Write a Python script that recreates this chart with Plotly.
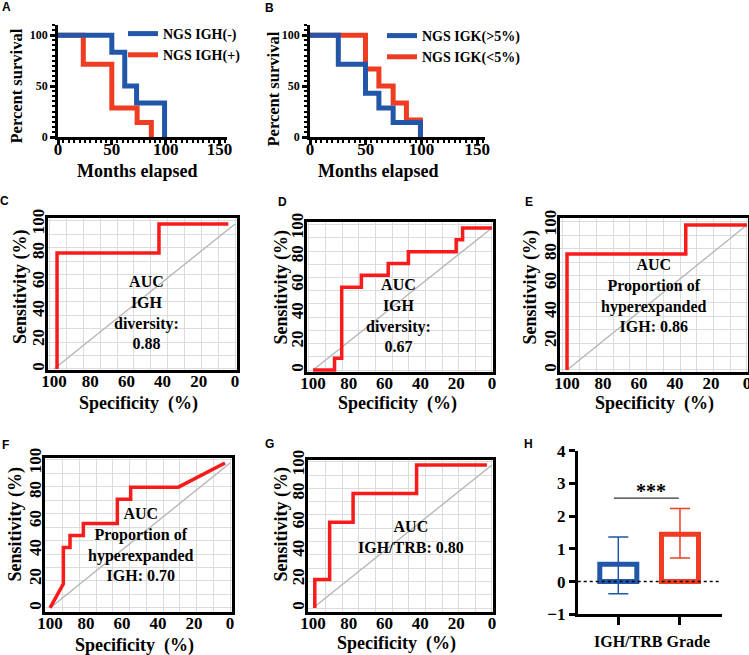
import plotly.graph_objects as go

W, H = 749, 655
SERIF = "Liberation Serif"
SANS = "Liberation Sans"
BLUE = "#2256a8"
RED = "#ee3d23"
ROC_RED = "#f81b1b"
GRID = "#dcdcdc"

# ---------------- data ----------------
# Panel A: Kaplan-Meier, NGS IGH
a_neg_months = [0, 50, 62, 73, 99]
a_neg_surv = [100, 83.3, 50, 33.3, 0]
a_pos_months = [0, 23.5, 50, 73.5, 86.7]
a_pos_surv = [100, 71.4, 28.6, 14.3, 0]

# Panel B: Kaplan-Meier, NGS IGK
b_hi_months = [0, 25.4, 49.8, 61.8, 74.6, 99.1]
b_hi_surv = [100, 71.4, 42.9, 28.6, 14.3, 0]
b_lo_months = [0, 49.8, 61.8, 74.6, 86.5, 99.1]
b_lo_surv = [100, 66.7, 50, 33.3, 16.7, 0]

# ROC curves (specificity %, sensitivity %)
roc_ref_spec = [100, 0]
roc_ref_sens = [0, 100]

roc_c_spec = [98.3, 98.3, 42, 42, 3.7]
roc_c_sens = [0, 80, 80, 100, 100]

roc_d_spec = [100, 88, 88, 84, 84, 73, 73, 58, 58, 46.7, 46.7, 20, 20, 16.4, 16.4, 0]
roc_d_sens = [0, 0, 8.3, 8.3, 58.3, 58.3, 66.7, 66.7, 75, 75, 83.3, 83.3, 91.7, 91.7, 100, 100]

roc_e_spec = [100, 100, 34, 34, 0]
roc_e_sens = [0, 80, 80, 100, 100]

roc_f_spec = [100, 92.6, 92.6, 88.9, 88.9, 81.5, 81.5, 62.6, 62.6, 55.2, 55.2, 28.7, 2.8]
roc_f_sens = [0, 16.7, 41.7, 41.7, 50, 50, 58.3, 58.3, 75, 75, 83.3, 83.3, 100]

roc_g_spec = [99, 99, 90.7, 90.7, 77.6, 77.6, 42.1, 42.1, 2.8]
roc_g_sens = [0, 20, 20, 60, 60, 80, 80, 100, 100]

roc_ticks = [0, 20, 40, 60, 80, 100]

# Panel H: IGH/TRB grade
grade_pos = [0, 1]
grade_mean = [0.53, 1.45]
grade_err_plus = [0.83, 0.78]
grade_err_minus = [0.90, 0.73]
grade_colors = [BLUE, RED]

# ---------------- helpers ----------------
def dx(p0, p1):
    return [p0 / W, p1 / W]

def dy(top, bottom):
    return [1 - bottom / H, 1 - top / H]

def px(x):
    return x / W

def py(y):
    return 1 - y / H

fig = go.Figure()

# ---------------- survival panels ----------------
def surv_trace(x, y, color, name, n, legend, rank):
    return go.Scatter(x=x, y=y, mode="lines", line=dict(color=color, width=5, shape="hv"),
                      name=name, xaxis=f"x{n}", yaxis=f"y{n}", legend=legend, legendrank=rank)

fig.add_trace(surv_trace(a_pos_months, a_pos_surv, RED, "NGS IGH(+)", 1, "legend", 2))
fig.add_trace(surv_trace(a_neg_months, a_neg_surv, BLUE, "NGS IGH(-)", 1, "legend", 1))
fig.add_trace(surv_trace(b_lo_months, b_lo_surv, RED, "NGS IGK(<5%)", 2, "legend2", 2))
fig.add_trace(surv_trace(b_hi_months, b_hi_surv, BLUE, "NGS IGK(>5%)", 2, "legend2", 1))

def surv_axes(n, xdom, ydom):
    xa = dict(domain=xdom, range=[0, 157], anchor=f"y{n}", showline=True, linecolor="black",
              linewidth=2.5, showgrid=False, zeroline=False, tickmode="array",
              tickvals=[0, 50, 100, 150], ticks="outside", ticklen=5, tickwidth=2.5,
              tickcolor="black", ticklabelstandoff=-10,
              tickfont=dict(family=SERIF, size=17, color="black", weight="bold"),
              minor=dict(tick0=0, dtick=5, ticks="outside", ticklen=3, tickwidth=1.5,
                         tickcolor="black", showgrid=False),
              automargin=False, fixedrange=True)
    ya = dict(domain=ydom, range=[0, 110], anchor=f"x{n}", showline=True, linecolor="black",
              linewidth=2.5, showgrid=False, zeroline=False, tickmode="array",
              tickvals=[0, 50, 100], ticks="outside", ticklen=5, tickwidth=2.5,
              tickcolor="black",
              tickfont=dict(family=SERIF, size=12, color="black", weight="bold"),
              minor=dict(tick0=0, dtick=5, ticks="outside", ticklen=3, tickwidth=1.5,
                         tickcolor="black", showgrid=False),
              automargin=False, fixedrange=True)
    return xa, ya

xa, ya = surv_axes(1, dx(58, 227), dy(25, 137))
fig.update_layout(xaxis=xa, yaxis=ya)
xa, ya = surv_axes(2, dx(310, 485), dy(25, 137))
fig.update_layout(xaxis2=xa, yaxis2=ya)

# ---------------- ROC panels ----------------
roc_panels = [
    (3, roc_c_spec, roc_c_sens, (48, 237), (218, 370), [103.3, -1.1], [-0.7, 104.1]),
    (4, roc_d_spec, roc_d_sens, (307, 493), (222, 372), [103.4, -0.6], [-1.4, 104.2]),
    (5, roc_e_spec, roc_e_sens, (560, 748), (218, 372), [103.9, -0.6], [-1.4, 104.8]),
    (6, roc_f_spec, roc_f_sens, (45, 232), (458, 612), [102.8, -1.1], [-2.8, 103.4]),
    (7, roc_g_spec, roc_g_sens, (308, 493), (460, 612), [102.8, -0.6], [-2.8, 103.5]),
]

layout_axes = {}
for n, spec, sens, xp, yp, xr, yr in roc_panels:
    fig.add_trace(go.Scatter(x=roc_ref_spec, y=roc_ref_sens, mode="lines",
                             line=dict(color="#b4b4b4", width=1.3), showlegend=False,
                             xaxis=f"x{n}", yaxis=f"y{n}"))
    fig.add_trace(go.Scatter(x=spec, y=sens, mode="lines",
                             line=dict(color=ROC_RED, width=3.5), showlegend=False,
                             xaxis=f"x{n}", yaxis=f"y{n}"))
    common = dict(showline=True, mirror=True, linecolor="black", linewidth=2.5,
                  showgrid=False, zeroline=False, tickmode="array", tickvals=roc_ticks,
                  ticks="", tickfont=dict(family=SERIF, size=17, color="black", weight="bold"),
                  minor=dict(tick0=0, dtick=9.3, showgrid=True, gridcolor=GRID, gridwidth=1.2),
                  ticklabeloverflow="allow", automargin=False, fixedrange=True)
    layout_axes[f"xaxis{n}"] = dict(domain=dx(*xp), range=xr, anchor=f"y{n}",
                                    ticklabelstandoff=-6, **common)
    layout_axes[f"yaxis{n}"] = dict(domain=dy(*yp), range=yr, anchor=f"x{n}", tickangle=-90,
                                    ticklabelstandoff=-6, **common)
fig.update_layout(**layout_axes)

# ---------------- panel H bars ----------------
for i in range(2):
    fig.add_trace(go.Bar(x=[grade_pos[i]], y=[grade_mean[i]], width=0.6,
                         marker=dict(color="white", line=dict(color=grade_colors[i], width=5)),
                         error_y=dict(type="data", symmetric=False,
                                      array=[grade_err_plus[i]], arrayminus=[grade_err_minus[i]],
                                      color=grade_colors[i], thickness=1.5, width=10),
                         showlegend=False, xaxis="x8", yaxis="y8"))

fig.update_layout(
    xaxis8=dict(domain=dx(577.7, 721.7), range=[-0.658, 1.676], anchor="y8", showline=True,
                linecolor="black", linewidth=2.5, showgrid=False, zeroline=False,
                tickmode="array", tickvals=grade_pos, showticklabels=False, ticks="outside",
                ticklen=8, tickwidth=2.5, tickcolor="black", automargin=False, fixedrange=True),
    yaxis8=dict(domain=dy(450.7, 614.3), range=[-1, 4], anchor="x8", showline=True,
                linecolor="black", linewidth=2.5, showgrid=False, zeroline=False,
                tickmode="array", tickvals=[-1, 0, 1, 2, 3, 4], ticks="outside", ticklen=6,
                tickwidth=2.5, tickcolor="black",
                tickfont=dict(family=SERIF, size=17, color="black", weight="bold"),
                automargin=False, fixedrange=True),
)

fig.add_shape(type="line", xref="x8 domain", yref="y8", x0=0, x1=1, y0=0, y1=0,
              line=dict(color="black", width=1.5, dash="dot"), layer="above")
fig.add_shape(type="line", xref="x8", yref="y8", x0=-0.07, x1=0.98, y0=2.55, y1=2.55,
              line=dict(color="#333333", width=1.2))

# ---------------- annotations ----------------
ann = []

def text(x, y, s, size, family=SERIF, angle=0, weight="bold", xanchor="center", yanchor="middle"):
    ann.append(dict(x=px(x), y=py(y), xref="paper", yref="paper", text=s, showarrow=False,
                    textangle=angle, xanchor=xanchor, yanchor=yanchor, align="center",
                    font=dict(family=family, size=size, color="black", weight=weight)))

# panel letters
for s, x, y in [("A", 6, 7.5), ("B", 269, 8), ("C", 4.5, 200.5), ("D", 282, 202),
                ("E", 528.5, 202), ("F", 5, 444.5), ("G", 269, 444), ("H", 528.5, 444)]:
    text(x, y, s, 12, family=SANS)

# survival titles
text(137.5, 171, "Months elapsed", 18)
text(379, 171, "Months elapsed", 18)
text(16.5, 86, "Percent survival", 16.5, angle=-90)
text(273.5, 89, "Percent survival", 16.5, angle=-90)

# ROC titles
for x, y in [(138, 403), (397.5, 403), (654, 403), (134, 645), (396.5, 643)]:
    text(x, y, "Specificity  (%)", 18)
for x, y in [(20, 287), (281, 287.5), (529.5, 287), (14.5, 524), (280.5, 524)]:
    text(x, y, "Sensitivity (%)", 18, angle=-90)

# AUC texts
text(146, 312, "AUC<br>IGH<br>diversity:<br>0.88", 16)
text(399, 315, "AUC<br>IGH<br>diversity:<br>0.67", 16)
text(654, 295, "AUC<br>Proportion of<br>hyperexpanded<br>IGH: 0.86", 16)
text(141, 544, "AUC<br>Proportion of<br>hyperexpanded<br>IGH: 0.70", 16)
text(411, 537, "AUC<br>IGH/TRB: 0.80", 16)

# panel H texts
text(652, 641, "IGH/TRB Grade", 16)
ann.append(dict(x=0.53, y=2.55, xref="x8", yref="y8", text="***", showarrow=False,
                xanchor="center", yanchor="bottom", yshift=-6,
                font=dict(family=SERIF, size=20, color="black", weight="bold")))

fig.update_layout(
    annotations=ann,
    width=W, height=H,
    margin=dict(l=0, r=0, t=0, b=0),
    paper_bgcolor="white", plot_bgcolor="white",
    barmode="overlay",
    legend=dict(x=px(123), y=py(18), xanchor="left", yanchor="top",
                bgcolor="rgba(0,0,0,0)", itemwidth=30, tracegroupgap=0,
                font=dict(family=SERIF, size=14, color="black", weight="bold")),
    legend2=dict(x=px(382), y=py(20), xanchor="left", yanchor="top",
                 bgcolor="rgba(0,0,0,0)", itemwidth=30, tracegroupgap=0,
                 font=dict(family=SERIF, size=14, color="black", weight="bold")),
)

fig.write_html("out.html", config={"displayModeBar": False},
               post_script="document.body.style.margin='0';document.body.style.padding='0';")
